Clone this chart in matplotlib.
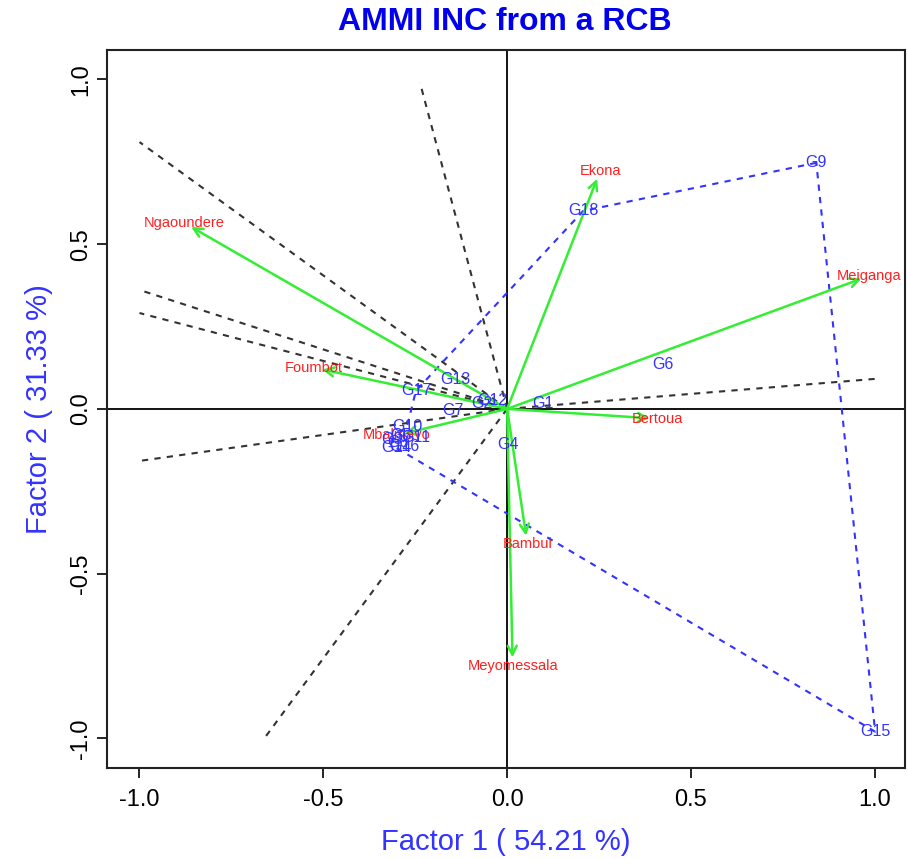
"""AMMI biplot (which-won-where) for INC trial, redrawn with matplotlib."""

import matplotlib
matplotlib.use("Agg")
import matplotlib.pyplot as plt

# --------------------------------------------------------------- data
env_names = ["Ekona", "Ngaoundere", "Meiganga", "Foumbot", "Bertoua",
             "Bambui", "Meyomessala", "Mbalmayo"]
env_f1 = [0.253, -0.879, 0.985, -0.525, 0.410, 0.055, 0.015, -0.300]
env_f2 = [0.722, 0.565, 0.404, 0.125, -0.030, -0.410, -0.780, -0.080]

gen_names = ["G1", "G2", "G3", "G4", "G5", "G6", "G7", "G8", "G9",
             "G10", "G11", "G12", "G13", "G14", "G15", "G16", "G17", "G18"]
gen_f1 = [0.098, -0.068, -0.313, 0.003, -0.288, 0.424, -0.147, -0.297, 0.841,
          -0.272, -0.248, -0.041, -0.141, -0.302, 1.001, -0.280, -0.248, 0.207]
gen_f2 = [0.015, 0.015, -0.094, -0.109, -0.082, 0.134, -0.006, -0.103, 0.747,
          -0.052, -0.088, 0.024, 0.088, -0.118, -0.980, -0.115, 0.055, 0.601]

# polygon (convex hull) vertices, in drawing order
hull = ["G9", "G18", "G17", "G10", "G3", "G14", "G15"]

# sector rays from the origin, perpendicular to the hull sides
ray_f1 = [-0.237, -1.0, -1.0, -1.0, -1.0, -0.659, 1.0]
ray_f2 = [0.990, 0.810, 0.361, 0.291, -0.158, -0.998, 0.091]

title = "AMMI INC from a RCB"
xlab = "Factor 1 ( 54.21 %)"
ylab = "Factor 2 ( 31.33 %)"
ticks = [-1.0, -0.5, 0.0, 0.5, 1.0]

# --------------------------------------------------------------- figure
plt.rcParams["font.family"] = ["Liberation Sans", "DejaVu Sans"]

fig = plt.figure(figsize=(9.08, 8.59), dpi=100)
ax = fig.add_axes([0.118, 0.106, 0.879, 0.836])
ax.set_xlim(-1.088, 1.083)
ax.set_ylim(-1.09, 1.09)

ax.axhline(0, color="black", lw=1.3, zorder=1)
ax.axvline(0, color="black", lw=1.3, zorder=1)

for x, y in zip(ray_f1, ray_f2):
    ax.plot([0, x], [0, y], color="#333333", ls=(0, (3, 3)), lw=1.5, zorder=2)

gx = dict(zip(gen_names, gen_f1))
gy = dict(zip(gen_names, gen_f2))
hx = [gx[g] for g in hull] + [gx[hull[0]]]
hy = [gy[g] for g in hull] + [gy[hull[0]]]
ax.plot(hx, hy, color="#3333ff", ls=(0, (3, 3)), lw=1.5, zorder=2)

for name, x, y in zip(env_names, env_f1, env_f2):
    ax.annotate("", xy=(x, y), xytext=(0, 0),
                arrowprops=dict(arrowstyle="->", color="#33ee33", lw=1.8,
                                shrinkA=0, shrinkB=6, mutation_scale=16),
                zorder=3)
    ax.text(x, y, name, color="#ff2020", fontsize=10.5,
            ha="center", va="center", zorder=4)

for name, x, y in zip(gen_names, gen_f1, gen_f2):
    ax.text(x, y, name, color="#3333ff", fontsize=11.5,
            ha="center", va="center", zorder=4)

ax.set_xticks(ticks)
ax.set_yticks(ticks)
ax.set_xticklabels([f"{t:.1f}" for t in ticks])
ax.set_yticklabels([f"{t:.1f}" for t in ticks])
ax.tick_params(axis="both", length=7, width=1.2, labelsize=17, direction="out")
ax.tick_params(axis="x", pad=8)
ax.tick_params(axis="y", pad=4, labelrotation=90)
for lab in ax.get_yticklabels():
    lab.set_va("center")
for s in ax.spines.values():
    s.set_linewidth(1.5)
    s.set_color("#222222")

ax.set_xlabel(xlab, color="#3333ff", fontsize=21)
ax.xaxis.set_label_coords(0.5, -0.083)
ax.set_ylabel(ylab, color="#3333ff", fontsize=21)
ax.yaxis.set_label_coords(-0.068, 0.5)

fig.text(0.556, 0.974, title, color="#0000ee", fontsize=23,
         fontweight="bold", ha="center", va="center")

fig.savefig("out.png", dpi=100)
